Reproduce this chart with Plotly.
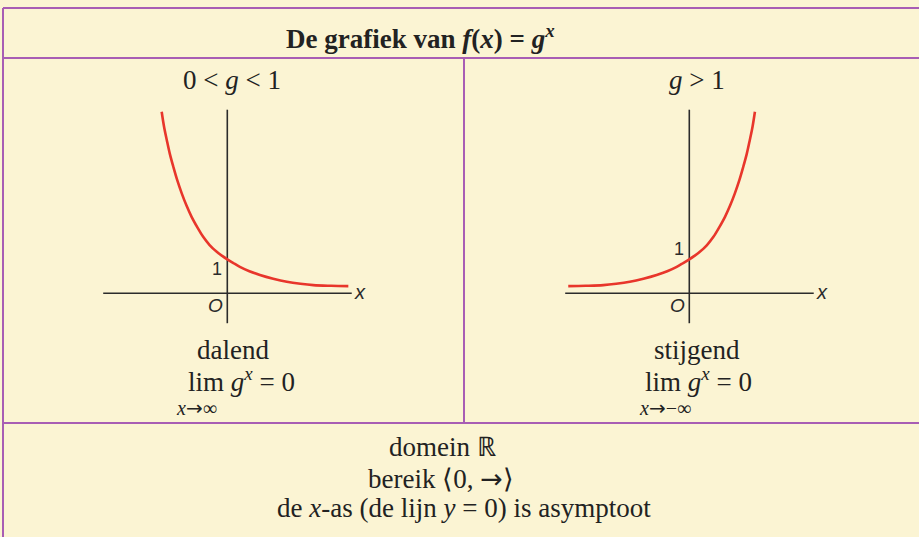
import plotly.graph_objects as go

# Canvas size in pixels
W, H = 919, 537

# Curve for 0 < g < 1 (decreasing), x and y in axis units
dec_x = [-1.93, -1.86, -1.78, -1.69, -1.59, -1.47, -1.34, -1.20, -1.05, -0.88, -0.71, -0.52,
         -0.31, -0.15, 0.0, 0.18, 0.37, 0.65, 0.96, 1.35, 1.75, 2.15, 2.53, 3.05, 3.56]
dec_y = [5.34, 4.90, 4.51, 4.10, 3.73, 3.32, 2.94, 2.58, 2.25, 1.94, 1.66, 1.42,
         1.22, 1.10, 1.00, 0.89, 0.78, 0.65, 0.54, 0.43, 0.34, 0.28, 0.24, 0.22, 0.21]

# Curve for g > 1 (increasing)
inc_x = [-3.56, -3.05, -2.53, -2.15, -1.75, -1.35, -0.96, -0.65, -0.37, -0.18, 0.0, 0.15,
         0.31, 0.52, 0.71, 0.88, 1.05, 1.20, 1.34, 1.47, 1.59, 1.69, 1.78, 1.86, 1.93]
inc_y = [0.21, 0.22, 0.24, 0.28, 0.34, 0.43, 0.54, 0.65, 0.78, 0.89, 1.00, 1.10,
         1.22, 1.42, 1.66, 1.94, 2.25, 2.58, 2.94, 3.32, 3.73, 4.10, 4.51, 4.90, 5.34]

# Extent of the drawn coordinate axes
axis_x = [-3.65, 3.66]
axis_y = [-0.88, 5.4]

BG = "#FBF4D3"
FRAME = "#A85DB4"
RED = "#E8362B"
INK = "#2B2B2B"
SERIF = "Liberation Serif"
SANS = "Liberation Sans"

UNIT = 34.0  # pixels per axis unit

ARROW = "<span style='font-family:DejaVu Sans'>→</span>"


def px(xp):
    return xp / W


def py(yp):
    return 1 - yp / H


fig = go.Figure()

panels = [
    # (axis suffix, origin px x, origin px y, domain px x0, x1, curve, side of the "1" label)
    ("", 227.3, 293.3, 95, 365, dec_x, dec_y, "top"),
    ("2", 689.3, 293.3, 555, 830, inc_x, inc_y, "bottom"),
]

layout_axes = {}
for suf, ox, oy, d0, d1, cx, cy, one_anchor in panels:
    top, bot = 100, 330
    xr = [(d0 - ox) / UNIT, (d1 - ox) / UNIT]
    yr = [(oy - bot) / UNIT, (oy - top) / UNIT]
    layout_axes["xaxis" + suf] = dict(domain=[px(d0), px(d1)], range=xr, visible=False,
                                      anchor="y" + suf, fixedrange=True)
    layout_axes["yaxis" + suf] = dict(domain=[py(bot), py(top)], range=yr, visible=False,
                                      anchor="x" + suf, fixedrange=True)
    xa, ya = "x" + suf, "y" + suf
    # coordinate axes
    fig.add_trace(go.Scatter(x=axis_x, y=[0, 0], mode="lines", xaxis=xa, yaxis=ya,
                             line=dict(color=INK, width=1.6), hoverinfo="skip"))
    fig.add_trace(go.Scatter(x=[0, 0], y=axis_y, mode="lines", xaxis=xa, yaxis=ya,
                             line=dict(color=INK, width=1.6), hoverinfo="skip"))
    # exponential curve
    fig.add_trace(go.Scatter(x=cx, y=cy, mode="lines", xaxis=xa, yaxis=ya,
                             line=dict(color=RED, width=2.6, shape="spline", smoothing=1.0),
                             hoverinfo="skip"))
    # axis labels
    fig.add_annotation(x=axis_x[1], y=0, xref=xa, yref=ya, text="<i>x</i>", showarrow=False,
                       xanchor="left", yanchor="middle", xshift=0, yshift=1,
                       font=dict(family=SANS, size=20, color=INK))
    fig.add_annotation(x=0, y=0, xref=xa, yref=ya, text="<i>O</i>", showarrow=False,
                       xanchor="right", yanchor="top", xshift=-2, yshift=0,
                       font=dict(family=SANS, size=19, color=INK))
    fig.add_annotation(x=0, y=1, xref=xa, yref=ya, text="1", showarrow=False,
                       xanchor="right", yanchor=one_anchor, xshift=-3,
                       yshift=2 if one_anchor == "top" else -2,
                       font=dict(family=SANS, size=18, color=INK))

# Table frame
frame_lines = [
    (3, 8, 919, 8),
    (3, 8, 3, 537),
    (3, 58, 919, 58),
    (464, 58, 464, 423),
    (3, 423, 919, 423),
]
for x0, y0, x1, y1 in frame_lines:
    fig.add_shape(type="line", xref="paper", yref="paper",
                  x0=px(x0), y0=py(y0), x1=px(x1), y1=py(y1),
                  line=dict(color=FRAME, width=2))


def text(x, y, s, size=27, family=SERIF, anchor="center"):
    fig.add_annotation(x=px(x), y=py(y), xref="paper", yref="paper", text=s,
                       showarrow=False, xanchor=anchor, yanchor="middle",
                       font=dict(family=family, size=size, color="#222222"))


text(420, 37, "<b>De grafiek van <i>f</i>(<i>x</i>) = <i>g</i><sup><i>x</i></sup></b>", size=27)
text(232, 80, "0 &lt; <i>g</i> &lt; 1")
text(697, 80, "<i>g</i> &gt; 1")

text(233, 350, "dalend")
text(241, 380, "lim <i>g</i><sup><i>x</i></sup> = 0")
text(196, 408, "<i>x</i>" + ARROW + "∞", size=20)

text(697, 350, "stijgend")
text(698, 380, "lim <i>g</i><sup><i>x</i></sup> = 0")
text(665, 408, "<i>x</i>" + ARROW + "−∞", size=20)

text(442, 447, "domein ℝ")
text(441, 478, "bereik ⟨0, " + ARROW + "⟩")
text(464, 508, "de <i>x</i>-as (de lijn <i>y</i> = 0) is asymptoot")

fig.update_layout(width=W, height=H, margin=dict(l=0, r=0, t=0, b=0),
                  paper_bgcolor=BG, plot_bgcolor="rgba(0,0,0,0)", showlegend=False,
                  **layout_axes)

fig.write_html("out.html", config=dict(displayModeBar=False))
